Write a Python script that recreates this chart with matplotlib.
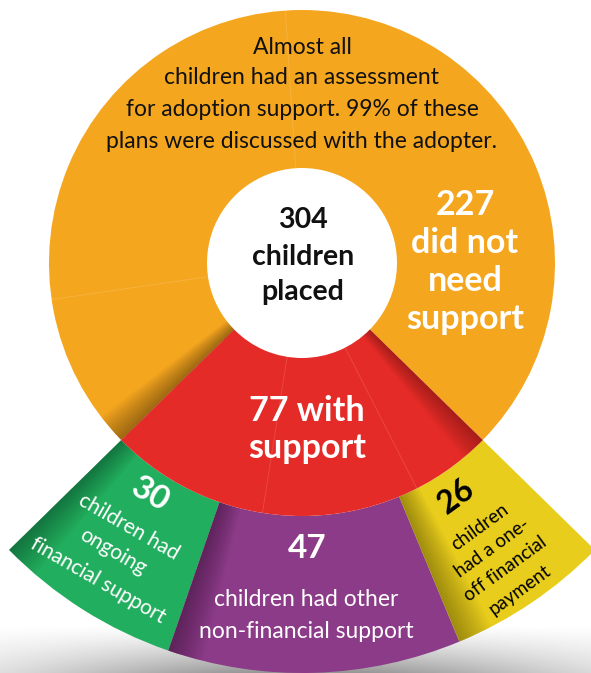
import numpy as np
import matplotlib
matplotlib.use("Agg")
import matplotlib.pyplot as plt
from matplotlib.patches import Wedge

# data
total = 304
inner_values = [227, 77]          # did not need support, with support
outer_values = [30, 47, 26]       # ongoing financial, other non-financial, one-off payment

orange = '#F5A61F'
red = '#E52B27'
outer_colors = ['#21AE5E', '#8C3B88', '#E9CD1C']

W, H = 591, 673
cx, cy = 302, H - 263
r_hole, r_mid, r_out = 95, 253, 410

fig = plt.figure(figsize=(W / 100, H / 100), dpi=100)
ax = fig.add_axes([0, 0, 1, 1])
ax.set_xlim(0, W)
ax.set_ylim(0, H)
ax.axis('off')

FONT = 'Lato'


def P(x, y):
    return x, H - y


def shade(r, width, edge, span, z, strength=0.35, n=14):
    # nested wedges starting at the edge give a soft dark band
    for i in range(n):
        a = edge + span * (i + 1) / n
        t1, t2 = (edge, a) if span > 0 else (a, edge)
        ax.add_patch(Wedge((cx, cy), r, t1, t2, width=width, facecolor='black',
                           alpha=strength / n, lw=0, zorder=z))


# bottom shadow
xs = np.linspace(0, W, 300)
ys = np.linspace(0, 48, 60)
X, Y = np.meshgrid(xs, ys)
inten = np.exp(-((X - 305) / 280) ** 2) * np.clip(1 - Y / 48, 0, 1) ** 1.2
img = np.zeros(X.shape + (4,))
img[..., :3] = 0.35
img[..., 3] = 0.65 * inten
ax.imshow(img, extent=[0, W, 0, 48], origin='lower', zorder=0, aspect='auto')

# inner ring
red_span = inner_values[1] / total * 360
red_t1 = 270 - red_span / 2
red_t2 = 270 + red_span / 2
ax.add_patch(Wedge((cx, cy), r_mid, red_t2, red_t1 + 360, width=r_mid - r_hole,
                   facecolor=orange, lw=0, zorder=2))
ax.add_patch(Wedge((cx, cy), r_mid, red_t1, red_t2, width=r_mid - r_hole,
                   facecolor=red, lw=0, zorder=2))

# faint seams
for ang in [93.8, 188.3, 261, 297]:
    t = np.radians(ang)
    ax.plot([cx + r_hole * np.cos(t), cx + r_mid * np.cos(t)],
            [cy + r_hole * np.sin(t), cy + r_mid * np.sin(t)],
            color='white', alpha=0.15, lw=0.6, zorder=3)

shade(r_mid, r_mid - r_hole, red_t1, -7, 3, 0.4)
shade(r_mid, r_mid - r_hole, red_t2, -6, 3, 0.3)

# outer ring, splitting the red span
fr = np.cumsum([0] + outer_values) / sum(outer_values)
edges = red_t1 + fr * red_span
for i, c in enumerate(outer_colors):
    ax.add_patch(Wedge((cx, cy), r_out, edges[i], edges[i + 1], width=r_out - r_mid,
                       facecolor=c, lw=0, zorder=1))
    shade(r_out, r_out - r_mid, edges[i], 5, 1.5, 0.35)

# texts
top_lines = ['Almost all', 'children had an assessment',
             'for adoption support. 99% of these', 'plans were discussed with the adopter.']
for s, y in zip(top_lines, [47, 78, 110, 141]):
    ax.text(*P(302, y), s, ha='center', va='center', fontsize=16.5,
            family=FONT, color='#111111', zorder=5)

for s, y in zip(['304', 'children', 'placed'], [220, 257, 292]):
    ax.text(*P(303, y), s, ha='center', va='center', fontsize=20.5,
            family=FONT, weight='bold', color='#111111', zorder=5)

for s, y in zip([str(inner_values[0]), 'did not', 'need', 'support'], [205, 243, 281, 319]):
    ax.text(*P(465, y), s, ha='center', va='center', fontsize=24.5,
            family=FONT, weight='bold', color='white', zorder=5)

for s, y in zip([f'{inner_values[1]} with', 'support'], [411, 448]):
    ax.text(*P(307, y), s, ha='center', va='center', fontsize=24.5,
            family=FONT, weight='bold', color='white', zorder=5)

# green
ax.text(*P(150, 494), str(outer_values[0]), ha='center', va='center', fontsize=24,
        family=FONT, weight='bold', color='white', rotation=-30,
        rotation_mode='anchor', zorder=5)
for s, (x, y) in zip(['children had', 'ongoing', 'financial support'],
                     [(129, 527), (113, 552), (98, 580)]):
    ax.text(*P(x, y), s, ha='center', va='center', fontsize=15, family=FONT,
            color='white', rotation=-30, rotation_mode='anchor', zorder=5)

# purple
ax.text(*P(307, 548), str(outer_values[1]), ha='center', va='center', fontsize=24,
        family=FONT, weight='bold', color='white', zorder=5)
for s, y in zip(['children had other', 'non-financial support'], [600, 632]):
    ax.text(*P(306, y), s, ha='center', va='center', fontsize=16.5,
            family=FONT, color='white', zorder=5)

# yellow
ax.text(*P(456, 496), str(outer_values[2]), ha='center', va='center', fontsize=23,
        family=FONT, weight='bold', color='black', rotation=36,
        rotation_mode='anchor', zorder=5)
for s, (x, y) in zip(['children', 'had a one-', 'off financial', 'payment'],
                     [(480, 527), (492, 548), (505, 569), (520, 590)]):
    ax.text(*P(x, y), s, ha='center', va='center', fontsize=13.5, family=FONT,
            color='black', rotation=36, rotation_mode='anchor', zorder=5)

fig.savefig('out.png', dpi=100)
